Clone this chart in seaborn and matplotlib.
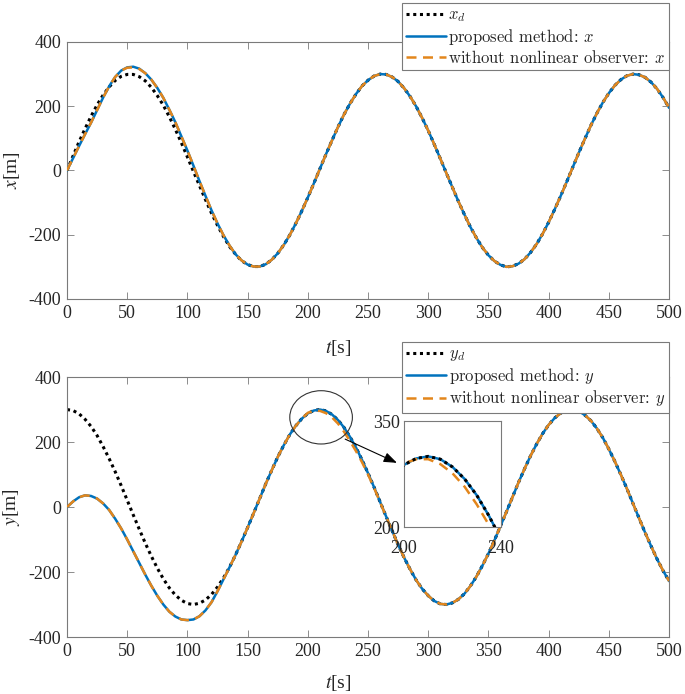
import matplotlib
matplotlib.use('Agg')
import matplotlib.pyplot as plt
from matplotlib.patches import Ellipse
import seaborn as sns

# time axis (s), 5 s steps
t = list(range(0, 501, 5))

# x position (m)
x_d = [0, 45, 89, 130, 169, 204, 235, 260, 280, 293, 299, 299, 292, 279, 259, 233, 203, 167, 128, 86,
       42, -3, -47, -91, -133, -171, -206, -237, -261, -281, -293, -299, -299, -292, -278, -258, -232, -201, -165, -126,
       -84, -40, 5, 50, 93, 135, 174, 208, 238, 263, 281, 294, 300, 299, 291, 277, 256, 230, 199, 163,
       124, 81, 37, -8, -52, -96, -137, -176, -210, -240, -264, -282, -294, -300, -298, -290, -276, -255, -229, -197,
       -161, -121, -79, -35, 10, 55, 98, 140, 178, 212, 241, 265, 283, 295, 300, 298, 290, 275, 254, 227,
       195]
x_prop = [0, 38, 76, 113, 149, 188, 227, 262, 291, 311, 321, 323, 317, 303, 283, 257, 226, 189, 150, 106,
          62, 15, -33, -79, -124, -165, -202, -234, -261, -280, -293, -299, -299, -292, -278, -258, -232, -201, -165, -126,
          -84, -40, 5, 50, 93, 135, 174, 208, 238, 263, 281, 294, 300, 299, 291, 277, 256, 230, 199, 163,
          124, 81, 37, -8, -52, -96, -137, -176, -210, -240, -264, -282, -294, -300, -298, -290, -276, -255, -229, -197,
          -161, -121, -79, -35, 10, 55, 98, 140, 178, 212, 241, 265, 283, 295, 300, 298, 290, 275, 254, 227,
          195]
x_wo = [0, 38, 76, 113, 149, 188, 227, 262, 291, 311, 320, 321, 316, 303, 283, 257, 226, 189, 150, 106,
        62, 15, -33, -79, -124, -165, -202, -234, -261, -280, -293, -299, -299, -292, -278, -258, -232, -201, -165, -126,
        -84, -40, 5, 50, 93, 135, 174, 208, 238, 263, 281, 294, 300, 299, 291, 277, 256, 230, 199, 163,
        124, 81, 37, -8, -52, -96, -137, -176, -210, -240, -264, -282, -294, -300, -298, -290, -276, -255, -229, -197,
        -161, -121, -79, -35, 10, 55, 98, 140, 178, 212, 241, 265, 283, 295, 300, 298, 290, 275, 254, 227,
        195]

# y position (m)
y_d = [300, 297, 287, 270, 248, 220, 186, 149, 109, 66, 21, -24, -68, -111, -151, -188, -221, -249, -271, -287,
       -297, -300, -296, -286, -269, -246, -218, -185, -147, -106, -63, -19, 26, 71, 113, 154, 190, 223, 250, 272,
       288, 297, 300, 296, 285, 268, 245, 216, 183, 145, 104, 61, 16, -29, -73, -116, -156, -192, -225, -252,
       -273, -289, -298, -300, -295, -284, -267, -243, -214, -180, -143, -102, -58, -14, 31, 76, 118, 158, 194, 226,
       253, 274, 289, 298, 300, 295, 283, 266, 242, 213, 178, 140, 99, 56, 11, -34, -78, -120, -160, -196,
       -228]
y_prop = [0, 17, 30, 36, 34, 26, 11, -9, -36, -66, -100, -136, -172, -208, -242, -273, -300, -322, -337, -346,
          -348, -346, -336, -318, -293, -259, -222, -185, -147, -106, -63, -19, 26, 71, 113, 154, 190, 223, 250, 272,
          288, 297, 300, 296, 285, 268, 245, 216, 183, 145, 104, 61, 16, -29, -73, -116, -156, -192, -225, -252,
          -273, -289, -298, -300, -295, -284, -267, -243, -214, -180, -143, -102, -58, -14, 31, 76, 118, 158, 194, 226,
          253, 274, 289, 298, 300, 295, 283, 266, 242, 213, 178, 140, 99, 56, 11, -34, -78, -120, -160, -196,
          -228]
y_wo = [0, 17, 30, 36, 34, 26, 11, -9, -36, -66, -100, -136, -172, -208, -242, -273, -300, -322, -337, -346,
        -348, -346, -336, -318, -293, -259, -222, -185, -147, -106, -63, -19, 26, 71, 113, 154, 190, 223, 250, 272,
        290, 296, 296, 289, 276, 257, 232, 203, 172, 138, 100, 59, 15, -29, -73, -116, -156, -192, -225, -252,
        -273, -289, -298, -300, -295, -284, -267, -243, -214, -180, -143, -102, -58, -14, 31, 76, 118, 158, 194, 226,
        253, 274, 289, 298, 300, 295, 283, 266, 242, 213, 178, 140, 99, 56, 11, -34, -78, -120, -160, -196,
        -228]

sns.set_style('ticks')
plt.rcParams['font.family'] = ['Liberation Serif', 'DejaVu Serif']
plt.rcParams['mathtext.fontset'] = 'stix'
plt.rcParams['axes.unicode_minus'] = False

BLUE = '#0072BD'
ORANGE = '#E3861C'
DOT = (0, (1, 1.2))
DASH = (0, (4, 2.6))
GRAY = '#7a7a7a'

fig = plt.figure(figsize=(6.85, 6.94), dpi=100)
ax1 = fig.add_axes([0.0978, 0.5692, 0.879, 0.3703])
ax2 = fig.add_axes([0.0978, 0.0821, 0.879, 0.3746])


def draw(ax, d, p, w, name, top):
    sns.lineplot(x=t, y=d, ax=ax, color='k', linestyle=DOT, lw=2.2, zorder=2, label='$' + name + '_d$')
    sns.lineplot(x=t, y=p, ax=ax, color=BLUE, lw=1.8, zorder=3, label='proposed method: $' + name + '$')
    sns.lineplot(x=t, y=w, ax=ax, color=ORANGE, linestyle=DASH, lw=1.8, zorder=4,
                 label='without nonlinear observer: $' + name + '$')
    ax.set_xlim(0, 500)
    ax.set_ylim(-400, 400)
    ax.set_xticks(range(0, 501, 50))
    ax.set_yticks([-400, -200, 0, 200, 400])
    ax.tick_params(direction='in', top=True, right=True, length=5, width=0.6, color=GRAY,
                   labelsize=13, labelcolor='#262626', pad=4)
    for s in ax.spines.values():
        s.set_color(GRAY)
        s.set_linewidth(0.8)
        s.set_visible(True)
    ax.set_xlabel('$t$[s]', fontsize=14)
    ax.set_ylabel('$' + name + '$[m]', fontsize=14)
    ax.yaxis.set_label_coords(-0.075, 0.5)
    leg = ax.legend(loc='upper right', bbox_to_anchor=(1.0, top), borderaxespad=0,
                    prop={'family': 'cmr10', 'size': 12}, fancybox=False, framealpha=1,
                    edgecolor=GRAY, handlelength=2.4, handletextpad=0.15, labelspacing=0.15,
                    borderpad=0.25)
    leg.get_frame().set_linewidth(0.8)
    for txt in leg.get_texts():
        txt.set_math_fontfamily('cm')


draw(ax1, x_d, x_prop, x_wo, 'x', 1.152)
draw(ax2, y_d, y_prop, y_wo, 'y', 1.135)
ax1.xaxis.set_label_coords(0.45, -0.152)
ax2.xaxis.set_label_coords(0.45, -0.138)

# circle round the peak and arrow to the inset
ax2.add_patch(Ellipse((211, 276), 52, 164, fill=False, ec='#333333', lw=0.8, zorder=6))
ax2.annotate('', xy=(274, 136), xytext=(231, 209),
             arrowprops=dict(arrowstyle='-|>,head_length=0.8,head_width=0.3', color='k', lw=0.8,
                             shrinkA=0, shrinkB=0))

# inset: zoom on the y peak
axin = fig.add_axes([0.5898, 0.2406, 0.1416, 0.1527])
sns.lineplot(x=t, y=y_prop, ax=axin, color=BLUE, lw=1.8, zorder=2)
sns.lineplot(x=t, y=y_wo, ax=axin, color=ORANGE, linestyle=DASH, lw=1.8, zorder=3)
sns.lineplot(x=t, y=y_d, ax=axin, color='k', linestyle=DOT, lw=2.2, zorder=4)
axin.set_xlim(200, 240)
axin.set_ylim(200, 350)
axin.set_xticks([200, 240])
axin.set_yticks([200, 350])
axin.set_xlabel('')
axin.set_ylabel('')
axin.tick_params(axis='both', length=0, labelsize=13, labelcolor='#262626')
axin.tick_params(axis='x', pad=9)
axin.tick_params(axis='y', pad=3)
for s in axin.spines.values():
    s.set_color(GRAY)
    s.set_linewidth(0.8)

fig.savefig('out.png', dpi=100)
